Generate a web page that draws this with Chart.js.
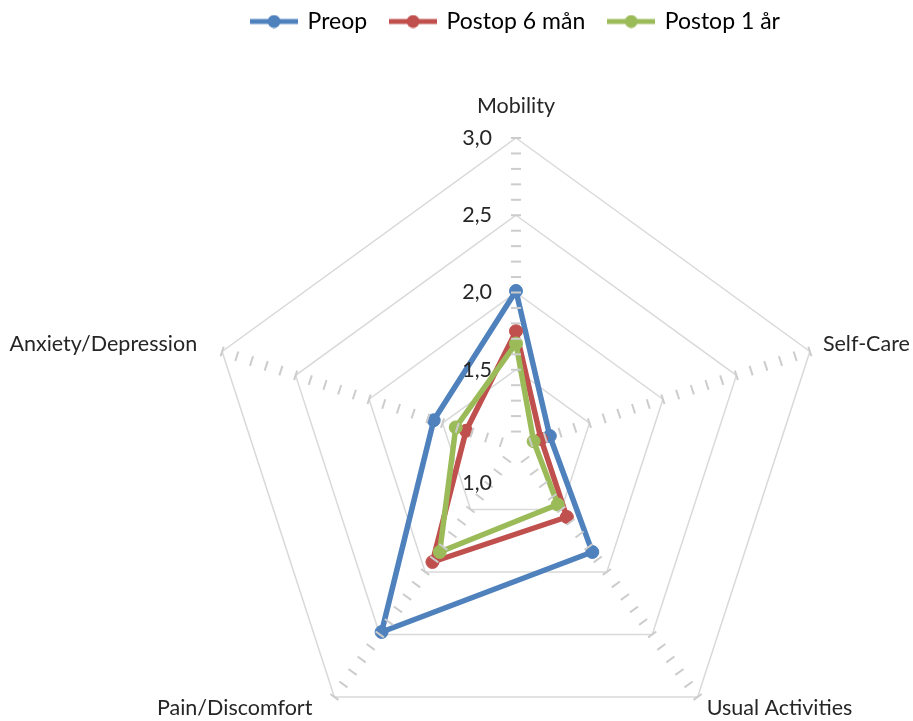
<!DOCTYPE html>
<html>
<head>
<meta charset="utf-8">
<script src="https://cdn.jsdelivr.net/npm/chart.js@4/dist/chart.umd.min.js"></script>
<style>
  html, body { margin: 0; padding: 0; background: #fff; overflow: hidden; }
  #eq5d { display: block; }
</style>
</head>
<body>
<canvas id="eq5d" width="913" height="851"></canvas>
<script>
// EQ-5D dimensioner, medelvärden per mättillfälle
const categories = ['Mobility', 'Self-Care', 'Usual Activities', 'Pain/Discomfort', 'Anxiety/Depression'];
const preop = [2.01, 1.23, 1.84, 2.48, 1.56];
const postop6 = [1.75, 1.17, 1.56, 1.92, 1.34];
const postop12 = [1.67, 1.12, 1.46, 1.84, 1.41];

const seriesNames = ['Preop', 'Postop 6 mån', 'Postop 1 år'];
const seriesColors = ['#4F81BD', '#C0504D', '#9BBB59'];

// skala 1,0 - 3,0
const scaleMin = 1.0;
const scaleMax = 3.0;
const tickValues = [1.5, 2.0, 2.5, 3.0];
const tickLabels = ['1,5', '2,0', '2,5', '3,0'];
const centerTickLabel = '1,0';
const minorStep = 0.1;

const FONT = 'Lato, "Open Sans", sans-serif';

// linje + punkt som legend-symbol
function legendSymbol(color) {
    const c = document.createElement('canvas');
    c.width = 48;
    c.height = 14;
    const g = c.getContext('2d');
    g.strokeStyle = color;
    g.lineWidth = 5;
    g.beginPath();
    g.moveTo(0, 7);
    g.lineTo(48, 7);
    g.stroke();
    g.fillStyle = color;
    g.beginPath();
    g.arc(24, 7, 6.5, 0, Math.PI * 2);
    g.fill();
    return c;
}
const symbols = seriesColors.map(legendSymbol);

// placering av kategoritexterna relativt ytterringens hörn
const labelPlacement = [
    { dx: 0, dy: -32, align: 'center' },
    { dx: 13, dy: -7, align: 'left' },
    { dx: 9, dy: 11, align: 'left' },
    { dx: -22, dy: 11, align: 'right' },
    { dx: -25, dy: -7, align: 'right' }
];

const axisDecor = {
    id: 'axisDecor',
    // små delstreck längs varje ekeraxel, ovanpå serierna
    afterDatasetsDraw(chart) {
        const r = chart.scales.r;
        const ctx = chart.ctx;
        ctx.save();
        ctx.strokeStyle = '#cccccc';
        ctx.lineWidth = 2;
        categories.forEach((_, i) => {
            const a = r.getIndexAngle(i) - Math.PI / 2;
            const nx = -Math.sin(a), ny = Math.cos(a);
            const steps = Math.round((scaleMax - scaleMin) / minorStep);
            for (let k = 1; k <= steps; k++) {
                const p = r.getPointPositionForValue(i, scaleMin + k * minorStep);
                ctx.beginPath();
                ctx.moveTo(p.x - nx * 5, p.y - ny * 5);
                ctx.lineTo(p.x + nx * 5, p.y + ny * 5);
                ctx.stroke();
            }
        });
        ctx.restore();
    },
    afterDraw(chart) {
        const r = chart.scales.r;
        const ctx = chart.ctx;
        ctx.save();
        ctx.font = '21.5px ' + FONT;
        ctx.textBaseline = 'middle';

        // värdeetiketter vid Mobility-axeln
        ctx.fillStyle = '#262626';
        ctx.textAlign = 'right';
        tickValues.forEach((v, i) => {
            const p = r.getPointPositionForValue(0, v);
            ctx.fillText(tickLabels[i], p.x - 24, p.y);
        });
        ctx.fillText(centerTickLabel, r.xCenter - 24, r.yCenter + 36);

        // kategorinamn
        categories.forEach((name, i) => {
            const v = r.getPointPosition(i, r.drawingArea);
            const pl = labelPlacement[i];
            ctx.textAlign = pl.align;
            ctx.fillText(name, v.x + pl.dx, v.y + pl.dy);
        });
        ctx.restore();
    }
};

const seriesData = [preop, postop6, postop12];

new Chart(document.getElementById('eq5d'), {
    type: 'radar',
    data: {
        labels: categories,
        datasets: seriesData.map((d, i) => ({
            label: seriesNames[i],
            data: d,
            order: seriesData.length - i,
            borderColor: seriesColors[i],
            backgroundColor: seriesColors[i],
            pointBackgroundColor: seriesColors[i],
            pointBorderColor: seriesColors[i],
            borderWidth: 5.5,
            borderJoinStyle: 'round',
            pointRadius: 6.5,
            pointBorderWidth: 1,
            pointHoverRadius: 6.5,
            fill: false
        }))
    },
    options: {
        responsive: false,
        animation: false,
        layout: { padding: { left: 207, right: 88, top: -14, bottom: 0 } },
        scales: {
            r: {
                min: scaleMin,
                max: scaleMax,
                ticks: { stepSize: 0.5, display: false },
                grid: { color: '#d9d9d9', lineWidth: 1.5 },
                angleLines: { display: false },
                pointLabels: { display: false }
            }
        },
        plugins: {
            tooltip: { enabled: false },
            legend: {
                position: 'top',
                labels: {
                    usePointStyle: true,
                    pointStyleWidth: 44,
                    boxHeight: 14,
                    padding: 24,
                    color: '#595959',
                    font: { family: FONT, size: 23 },
                    generateLabels: (chart) => chart.data.datasets.map((ds, i) => ({
                        text: ds.label,
                        pointStyle: symbols[i],
                        fillStyle: ds.borderColor,
                        strokeStyle: ds.borderColor,
                        lineWidth: 0,
                        hidden: false,
                        datasetIndex: i
                    }))
                }
            }
        }
    },
    plugins: [axisDecor]
});
</script>
</body>
</html>
